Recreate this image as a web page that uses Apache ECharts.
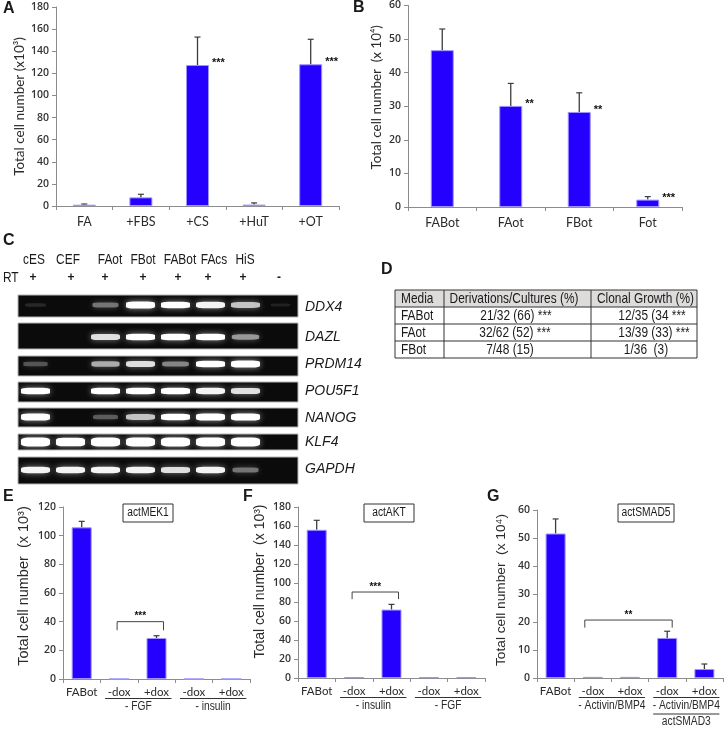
<!DOCTYPE html>
<html><head><meta charset="utf-8">
<style>html,body{margin:0;padding:0;background:#fff}#c{width:725px;height:729px}</style>
<script src="https://cdn.jsdelivr.net/npm/echarts@6/dist/echarts.min.js"></script>
</head><body><div id="c"></div>
<script>
// ---------- data ----------
const catsA = ['FA','+FBS','+CS','+HuT','+OT'];
const valsA = [1.2,7.8,127.5,1.3,128.2];
const errsA = [1.8,10.6,152.8,2.8,150.8];
const starsA = ['','','***','','***'];
const catsB = ['FABot','FAot','FBot','Fot'];
const valsB = [46.7,30.1,28.3,2.2];
const errsB = [53,36.8,34,3.1];
const starsB = ['','**','**','***'];
const catsE = ['FABot','-dox','+dox','-dox','+dox'];
const valsE = [105.8,0,28.6,0,0];
const errsE = [110,0,30.2,0,0];
const catsF = ['FABot','-dox','+dox','-dox','+dox'];
const valsF = [156,0.8,72,0.8,0.8];
const errsF = [166,0,77.5,0,0];
const catsG = ['FABot','-dox','+dox','-dox','+dox'];
const valsG = [51.6,0.4,0.4,14.3,3.2];
const errsG = [56.8,0,0,16.7,5];
const lanes = ['cES','CEF','FAot','FBot','FABot','FAcs','HiS','-'];
const rtMarks = ['+','+','+','+','+','+','+','-'];
const genes = ['DDX4','DAZL','PRDM14','POU5F1','NANOG','KLF4','GAPDH'];
const gelDDX4 = [.12,0,.5,1,.9,.85,.72,.03];
const gelDAZL = [0,0,.8,.9,.9,.9,.6,0];
const gelPRDM14 = [.38,0,.65,.8,.55,.9,1,0];
const gelPOU5F1 = [.9,0,.9,.9,.9,.85,.8,0];
const gelNANOG = [1,0,.42,.72,.9,1,1,0];
const gelKLF4 = [1,.9,.95,1,1,.95,.95,0];
const gelGAPDH = [.85,.85,.85,.85,.8,.85,.5,0];
const tableHeader = ['Media','Derivations/Cultures (%)','Clonal Growth (%)'];
const tableRows = [
  ['FABot','21/32 (66) ***','12/35 (34 ***'],
  ['FAot','32/62 (52) ***','13/39 (33) ***'],
  ['FBot','7/48 (15)','1/36  (3)']
];
// ---------- layout ----------
const SANS = '"Liberation Sans",sans-serif';
const LATO = 'Lato,"Liberation Sans",sans-serif';
const SQUEEZE = 0.82;
const BAR = '#2600ff', AXIS = '#8c8c8c', INK = '#2b2b2b';
const grids = [], xAxes = [], yAxes = [], series = [], graphic = [];

function addPanel(p){
  const gi = grids.length;
  grids.push({left:p.left,top:p.top,width:p.width,height:p.height,containLabel:false});
  xAxes.push({gridIndex:gi,type:'category',data:p.cats,
    axisLine:{lineStyle:{color:AXIS,width:1}},
    axisTick:{show:true,length:4,alignWithLabel:false,lineStyle:{color:AXIS}},
    axisLabel:{interval:0,margin:p.catMargin,fontFamily:LATO,fontSize:p.catSize,color:INK,hideOverlap:false}});
  yAxes.push({gridIndex:gi,type:'value',min:0,max:p.max,interval:p.step,
    name:p.title,nameLocation:'middle',nameGap:p.nameGap,nameRotate:90,
    nameTextStyle:{fontFamily:p.nameFont||SANS,fontSize:p.nameSize,color:INK,padding:p.namePad||0},
    axisLine:{show:true,lineStyle:{color:AXIS}},
    axisTick:{show:true,length:4,lineStyle:{color:AXIS}},
    splitLine:{show:false},
    axisLabel:{margin:7,fontFamily:'"Open Sans",sans-serif',fontSize:10.5,fontWeight:600,color:'#333'}});
  series.push({type:'bar',xAxisIndex:gi,yAxisIndex:gi,data:p.vals,barWidth:p.barPx,silent:true,animation:false,
    itemStyle:{color:BAR,borderColor:'#9d94ff',borderWidth:1}});
  series.push({type:'custom',xAxisIndex:gi,yAxisIndex:gi,silent:true,animation:false,clip:false,
    encode:{x:0,y:2},
    data:p.vals.map((v,i)=>[i,v,p.errs[i]]),
    renderItem(params,api){
      const i=api.value(0), v=api.value(1), e=api.value(2);
      const kids=[];
      const top=api.coord([i,v]), hi=api.coord([i,e]);
      if(e>v){
        kids.push({type:'line',shape:{x1:top[0],y1:top[1],x2:hi[0],y2:hi[1]},style:{stroke:'#3c3c3c',lineWidth:1.3}});
        kids.push({type:'line',shape:{x1:hi[0]-3,y1:hi[1],x2:hi[0]+3,y2:hi[1]},style:{stroke:'#3c3c3c',lineWidth:1.2}});
      }
      const s=p.stars&&p.stars[params.dataIndex];
      if(s) kids.push({type:'text',x:top[0]+p.barPx/2+3,y:top[1]-2,
        style:{text:s,fill:'#111',font:'bold 11px '+SANS,textAlign:'left',textVerticalAlign:'middle'}});
      return {type:'group',children:kids};
    }});
  if(p.bracket){
    series.push({type:'custom',xAxisIndex:gi,yAxisIndex:gi,silent:true,animation:false,clip:false,
      encode:{x:0,y:2},data:[p.bracket.span],
      renderItem(params,api){
        const a=api.coord([api.value(0),api.value(2)]), b=api.coord([api.value(1),api.value(3)]);
        const xl=a[0]+p.bracket.dl, xr=b[0]+p.bracket.dr, yt=a[1], yb=b[1];
        return {type:'group',children:[
          {type:'polyline',shape:{points:[[xl,yb],[xl,yt],[xr,yt],[xr,yb]]},style:{stroke:'#444',lineWidth:1,fill:null}},
          {type:'text',x:(xl+xr)/2,y:yt-5,style:{text:p.bracket.text,fill:'#111',font:'bold 10px '+SANS,textAlign:'center',textVerticalAlign:'middle'}}
        ]};
      }});
  }
  (p.groups||[]).forEach(g=>{
    series.push({type:'custom',xAxisIndex:gi,yAxisIndex:gi,silent:true,animation:false,clip:false,
      encode:{x:0,y:2},data:[[g.from,g.to,0]],
      renderItem(params,api){
        const a=api.coord([api.value(0),0]), b=api.coord([api.value(1),0]);
        const xl=a[0]-14, xr=b[0]+15, y=a[1];
        const kids=[{type:'line',shape:{x1:xl,y1:y+19.5,x2:xr,y2:y+19.5},style:{stroke:'#333',lineWidth:1}},
          {type:'text',x:(xl+xr)/2,y:y+28,scaleX:SQUEEZE,style:{text:g.label,fill:INK,font:'12.5px '+SANS,textAlign:'center',textVerticalAlign:'middle'}}];
        if(g.sub){
          kids.push({type:'line',shape:{x1:xl,y1:y+36,x2:xr,y2:y+36},style:{stroke:'#333',lineWidth:1}});
          kids.push({type:'text',x:(xl+xr)/2,y:y+44,scaleX:SQUEEZE,style:{text:g.sub,fill:INK,font:'12.5px '+SANS,textAlign:'center',textVerticalAlign:'middle'}});
        }
        return {type:'group',children:kids};
      }});
  });
}

addPanel({left:56,top:7,width:283,height:199,cats:catsA,vals:valsA,errs:errsA,stars:starsA,max:180,step:20,barPx:23,
  title:'Total cell number (x10³)',nameFont:LATO,nameGap:28,nameSize:13.5,catMargin:9,catSize:12.5});
addPanel({left:408,top:5,width:274,height:202,cats:catsB,vals:valsB,errs:errsB,stars:starsB,max:60,step:10,barPx:23,
  title:'Total cell number  (x 10⁴)',nameFont:LATO,nameGap:25,nameSize:13.4,namePad:[0,0,0,18],catMargin:9,catSize:12.5});
addPanel({left:63,top:507,width:187,height:172,cats:catsE,vals:valsE,errs:errsE,max:120,step:20,barPx:20,
  title:'Total cell number  (x 10³)',nameGap:32,nameSize:14.5,namePad:[0,0,0,14],catMargin:7,catSize:11.5,
  bracket:{span:[1,2,40,34],dl:-2,dr:7,text:'***'},
  groups:[{from:1,to:2,label:'- FGF'},{from:3,to:4,label:'- insulin'}]});
addPanel({left:298,top:507,width:187,height:171,cats:catsF,vals:valsF,errs:errsF,max:180,step:20,barPx:20,
  title:'Total cell number  (x 10³)',nameGap:31,nameSize:14,namePad:[0,0,0,22],catMargin:7,catSize:11.5,
  bracket:{span:[1,2,90.5,83],dl:-2,dr:7,text:'***'},
  groups:[{from:1,to:2,label:'- insulin'},{from:3,to:4,label:'- FGF'}]});
addPanel({left:537,top:510,width:186,height:168,cats:catsG,vals:valsG,errs:errsG,max:60,step:10,barPx:20,
  title:'Total cell number  (x 10⁴)',nameGap:29,nameSize:13.7,namePad:[0,0,0,8],catMargin:7,catSize:11.5,
  bracket:{span:[1,3,20.7,18],dl:-8,dr:5,text:'**'},
  groups:[{from:1,to:2,label:'- Activin/BMP4'},{from:3,to:4,label:'- Activin/BMP4',sub:'actSMAD3'}]});

// gel rows (panel C)
const gelData = [gelDDX4,gelDAZL,gelPRDM14,gelPOU5F1,gelNANOG,gelKLF4,gelGAPDH];
const gelBoxes = [[295,22,305,307],[323,26,337,337],[356,20,364,364],[382,20,391,391],[408,19,417,418],[434,16,442,442],[457,27,470,469]];
gelData.forEach((row,r)=>{
  const [top,h,band,labelY]=gelBoxes[r];
  const gi=grids.length;
  grids.push({left:18,top,width:280,height:h,show:true,backgroundColor:'#0b0b0b',borderColor:'#b5b5b5',borderWidth:1,containLabel:false});
  xAxes.push({gridIndex:gi,type:'category',data:lanes,show:false});
  yAxes.push({gridIndex:gi,type:'value',min:0,max:1,show:false,splitLine:{show:false}});
  series.push({type:'scatter',xAxisIndex:gi,yAxisIndex:gi,silent:true,animation:false,clip:true,
    symbol:'roundRect',
    data:row.map((v,i)=>{
      const g=Math.round(70+185*Math.min(1,v*v*1.3));
      return {value:[i,(top+h-band)/h],
        symbolSize:[19+10*Math.min(1,v*1.4),(genes[r]==='KLF4'?5:3)+4*v],
        itemStyle:{color:`rgb(${g},${g},${g})`,opacity:v===0?0:Math.min(1,.35+v),
          shadowBlur:6,shadowColor:`rgba(255,255,255,${.6*v})`}};
    })});
  graphic.push({type:'text',x:305,y:labelY,style:{text:genes[r],fill:'#1a1a1a',font:'italic 14px '+SANS,textAlign:'left',textVerticalAlign:'middle'}});
});

// helpers
const txt=(text,x,y,font,align,sx)=>graphic.push({type:'text',x,y,scaleX:sx||1,style:{text,fill:'#1a1a1a',font,textAlign:align||'left',textVerticalAlign:'middle'}});
[['A',3,9],['B',353,8],['C',3,241],['D',381,270],['E',3,497],['F',243,497],['G',487,497]]
  .forEach(a=>txt(a[0],a[1],a[2],'bold 16px '+SANS));
const laneHead=[34,68,110,143,180,214,245], lanePlus=[33,71,105,143,178,208,243,279];
laneHead.forEach((x,i)=>txt(lanes[i],x,260,'14.5px '+SANS,'center',SQUEEZE));
lanePlus.forEach((x,i)=>txt(rtMarks[i],x,278,'bold 12px '+SANS,'center'));
txt('RT',3,278,'14.5px '+SANS,'left',SQUEEZE);

// table (panel D)
const colX=[395,444,591,697], rowY=[290,307,324,341,358];
graphic.push({type:'rect',shape:{x:colX[0],y:rowY[0],width:colX[3]-colX[0],height:rowY[1]-rowY[0]},style:{fill:'#dedbdb'}});
rowY.forEach(y=>graphic.push({type:'line',shape:{x1:colX[0],y1:y,x2:colX[3],y2:y},style:{stroke:'#333',lineWidth:1}}));
colX.forEach(x=>graphic.push({type:'line',shape:{x1:x,y1:rowY[0],x2:x,y2:rowY[4]},style:{stroke:'#333',lineWidth:1}}));
const headX=[[401,'left'],[514,'center'],[645.5,'center']];
tableHeader.forEach((t,i)=>txt(t,headX[i][0],299,'14.5px '+SANS,headX[i][1],SQUEEZE));
const cellX=[[401,516,652],[401,515,654],[401,510,646]];
tableRows.forEach((row,r)=>row.forEach((t,c)=>txt(t,cellX[r][c],rowY[r+1]+8.5,'14.5px '+SANS,c?'center':'left',SQUEEZE)));

// boxed labels
[['actMEK1',123,173],['actAKT',364,414],['actSMAD5',618,674]].forEach(b=>{
  graphic.push({type:'rect',shape:{x:b[1],y:504,width:b[2]-b[1],height:18},style:{fill:'#fff',stroke:'#333',lineWidth:1}});
  txt(b[0],(b[1]+b[2])/2,513,'12.5px '+SANS,'center',SQUEEZE);
});

const chart=echarts.init(document.getElementById('c'),null,{renderer:'canvas'});
chart.setOption({animation:false,backgroundColor:'#fff',grid:grids,xAxis:xAxes,yAxis:yAxes,series,graphic:{elements:graphic}});
</script></body></html>
